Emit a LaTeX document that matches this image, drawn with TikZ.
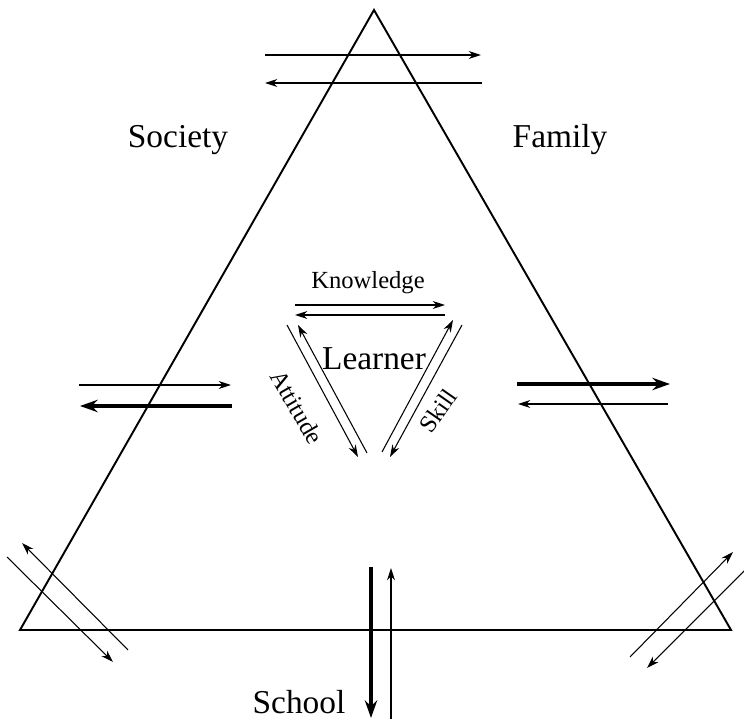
\documentclass[tikz,border=0pt]{standalone}
\usepackage{fontspec}
\setmainfont{Liberation Serif}
\usetikzlibrary{arrows.meta}

\tikzset{
  thinarr/.style={-{Stealth[length=7pt, width=4.5pt]}, line width=0.6pt},
  thickarr/.style={-{Stealth[length=10pt, width=7pt]}, line width=2.2pt},
  bigtext/.style={font=\fontsize{19}{22}\selectfont},
  smalltext/.style={font=\fontsize{14}{16}\selectfont}
}

\begin{document}
\begin{tikzpicture}[x=0.02cm, y=-0.02cm]
  \useasboundingbox (0,0) rectangle (744,719);

  % Outer triangle
  \coordinate (top) at (374,10);
  \coordinate (left) at (20,630);
  \coordinate (right) at (731,630);
  \draw[line width=1.1pt, line join=miter] (top) -- (right) -- (left) -- cycle;

  % Corner labels
  \node[bigtext] (society) at (178,140) {Society};
  \node[bigtext] (family) at (560,140) {Family};
  \node[bigtext] (school) at (299,702) {School};

  % Top: society <-> family
  \draw[thinarr] (265,55) -- (481,55);
  \draw[thinarr] (482,83) -- (265,83);

  % Left side
  \draw[thinarr] (79,385) -- (231,385);
  \draw[thickarr] (232,406) -- (80,406);

  % Right side
  \draw[thickarr] (517,384) -- (670,384);
  \draw[thinarr] (668,404) -- (518,404);

  % Bottom corners
  \draw[thinarr] (7,557) -- (113,662);
  \draw[thinarr] (128,650) -- (22,543);
  \draw[thinarr] (630,657) -- (733,552);
  \draw[thinarr] (746,569) -- (647,668);

  % Bottom: school
  \draw[thickarr] (371,567) -- (371,718);
  \draw[thinarr] (391,719) -- (391,568);

  % Learner in the middle
  \node[bigtext] (learner) at (374,359) {Learner};
  \node[smalltext] (knowledge) at (368,283) {Knowledge};
  \node[smalltext, rotate=-60, inner sep=0pt] (attitude) at (297,407) {Attitude};
  \node[smalltext, rotate=55, inner sep=0pt] (skill) at (438,411) {Skill};

  \draw[thinarr] (295,305) -- (445,305);
  \draw[thinarr] (445,315) -- (295,315);
  \draw[thinarr] (287,325) -- (358,457);
  \draw[thinarr] (367,453) -- (298,325);
  \draw[thinarr] (382,452) -- (453,320);
  \draw[thinarr] (462,325) -- (390,457);
\end{tikzpicture}
\end{document}
